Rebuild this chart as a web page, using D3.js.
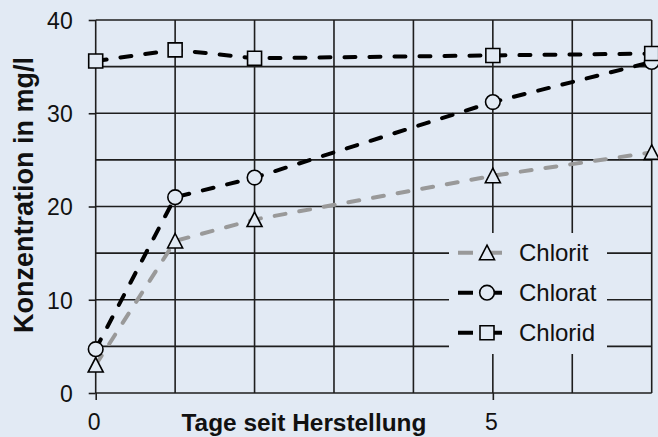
<!DOCTYPE html>
<html>
<head>
<meta charset="utf-8">
<script src="https://cdn.jsdelivr.net/npm/d3@7"></script>
<style>
	body { margin: 0; background: #e2eaf4; }
	svg { display: block; font-family: Arial, 'Liberation Sans', sans-serif; }
</style>
</head>
<body>
<svg id="chart"></svg>
<script>
const days = [ 0, 1, 2, 5, 7 ];
const chlorit = [ 3.0, 16.3, 18.6, 23.3, 25.8 ];
const chlorat = [ 4.7, 21.0, 23.1, 31.2, 35.5 ];
const chlorid = [ 35.6, 36.8, 35.9, 36.2, 36.4 ];
const xTickLabels = [ 0, 5 ];
const yTickLabels = [ 0, 10, 20, 30, 40 ];

const series = [
	{ name: 'Chlorit', values: chlorit, color: '#999999', symbol: 'triangle' },
	{ name: 'Chlorat', values: chlorat, color: '#000000', symbol: 'circle' },
	{ name: 'Chlorid', values: chlorid, color: '#000000', symbol: 'square' },
];

const bg = '#e2eaf4';
const width = 658;
const height = 437;
const margin = { top: 20, right: 6.3, bottom: 44, left: 95.7 };

const svg = d3.select( '#chart' )
	.attr( 'width', width )
	.attr( 'height', height );

svg.append( 'rect' )
	.attr( 'width', width )
	.attr( 'height', height )
	.attr( 'fill', bg );

const x = d3.scaleLinear()
	.domain( [ 0, 7 ] )
	.range( [ margin.left, width - margin.right ] );

const y = d3.scaleLinear()
	.domain( [ 0, 40 ] )
	.range( [ height - margin.bottom, margin.top ] );

// Grid
const grid = svg.append( 'g' )
	.attr( 'stroke', '#1e1e1e' )
	.attr( 'stroke-width', 1.6 );

grid.selectAll( '.vline' )
	.data( d3.range( 0, 8 ) )
	.enter()
	.append( 'line' )
	.attr( 'x1', ( d ) => x( d ) )
	.attr( 'x2', ( d ) => x( d ) )
	.attr( 'y1', y( 0 ) )
	.attr( 'y2', y( 40 ) );

grid.selectAll( '.hline' )
	.data( d3.range( 0, 45, 5 ) )
	.enter()
	.append( 'line' )
	.attr( 'x1', x( 0 ) )
	.attr( 'x2', x( 7 ) )
	.attr( 'y1', ( d ) => y( d ) )
	.attr( 'y2', ( d ) => y( d ) );

// Axes
const yAxis = svg.append( 'g' )
	.attr( 'transform', `translate(${ x( 0 ) },0)` )
	.call( d3.axisLeft( y ).tickValues( yTickLabels ).tickSize( 7 ).tickPadding( 16 ) );

const xAxis = svg.append( 'g' )
	.attr( 'transform', `translate(0,${ y( 0 ) })` )
	.call( d3.axisBottom( x ).tickValues( xTickLabels ).tickFormat( d3.format( 'd' ) ).tickSize( 7 ).tickPadding( 14 ) );

[ yAxis, xAxis ].forEach( ( ax ) => {
	ax.select( '.domain' ).remove();
	ax.selectAll( 'line' ).attr( 'stroke', '#1e1e1e' ).attr( 'stroke-width', 1.6 );
	ax.selectAll( 'text' )
		.attr( 'fill', '#111' )
		.style( 'font-size', '23px' )
		.style( 'font-family', 'Arial, Liberation Sans, sans-serif' );
} );
yAxis.selectAll( 'text' ).attr( 'dy', '0.36em' );
xAxis.selectAll( 'text' ).attr( 'dx', '-2px' );

// Axis titles
svg.append( 'text' )
	.attr( 'x', 181.5 )
	.attr( 'y', 430.5 )
	.attr( 'font-size', 24.4 )
	.attr( 'font-weight', 'bold' )
	.attr( 'fill', '#111' )
	.text( 'Tage seit Herstellung' );

svg.append( 'text' )
	.attr( 'transform', 'translate(33,333) rotate(-90)' )
	.attr( 'font-size', 27 )
	.attr( 'font-weight', 'bold' )
	.attr( 'fill', '#111' )
	.text( 'Konzentration in mg/l' );

// Legend background
svg.append( 'rect' )
	.attr( 'x', 449 )
	.attr( 'y', 233 )
	.attr( 'width', 158 )
	.attr( 'height', 121 )
	.attr( 'fill', bg );

function drawMarker( g, symbol, cx, cy ) {
	const m = g.append( 'path' )
		.attr( 'transform', `translate(${ cx },${ cy })` )
		.attr( 'fill', bg )
		.attr( 'stroke', '#000' )
		.attr( 'stroke-width', 1.6 );
	if ( symbol === 'square' ) {
		m.attr( 'd', 'M-7,-7H7V7H-7Z' );
	} else if ( symbol === 'circle' ) {
		m.attr( 'd', d3.symbol( d3.symbolCircle, Math.PI * 7.3 * 7.3 )() );
	} else {
		m.attr( 'd', 'M0,-7.5L7.5,7L-7.5,7Z' );
	}
}

const line = d3.line()
	.x( ( d, i ) => x( days[ i ] ) )
	.y( ( d ) => y( d ) );

series.forEach( ( s ) => {
	svg.append( 'path' )
		.datum( s.values )
		.attr( 'fill', 'none' )
		.attr( 'stroke', s.color )
		.attr( 'stroke-width', 4 )
		.attr( 'stroke-dasharray', '11,14' )
		.attr( 'stroke-linecap', 'round' )
		.attr( 'd', line );
} );

series.forEach( ( s ) => {
	const g = svg.append( 'g' );
	s.values.forEach( ( v, i ) => drawMarker( g, s.symbol, x( days[ i ] ), y( v ) ) );
} );

// Legend
series.forEach( ( s, i ) => {
	const ly = 252.7 + i * 40;
	const g = svg.append( 'g' );
	g.append( 'line' )
		.attr( 'x1', 458 )
		.attr( 'x2', 502 )
		.attr( 'y1', ly )
		.attr( 'y2', ly )
		.attr( 'stroke', s.color )
		.attr( 'stroke-width', 4 )
		.attr( 'stroke-dasharray', '15,14,15' );
	drawMarker( g, s.symbol, 487, ly );
	g.append( 'text' )
		.attr( 'x', 519 )
		.attr( 'y', ly + 8.6 )
		.attr( 'font-size', 24 )
		.attr( 'fill', '#111' )
		.text( s.name );
} );
</script>
</body>
</html>
